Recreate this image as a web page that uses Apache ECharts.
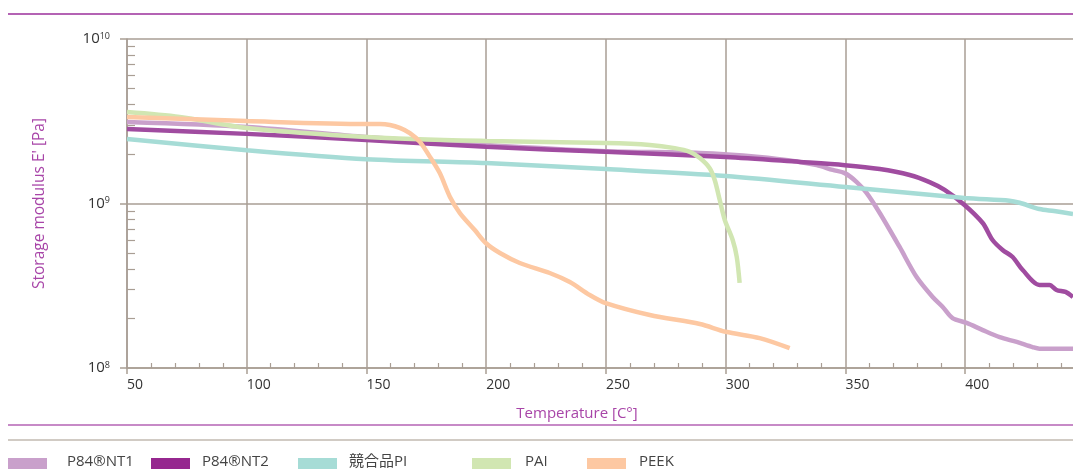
<!DOCTYPE html>
<html>
<head>
<meta charset="utf-8">
<script src="https://cdn.jsdelivr.net/npm/echarts@6/dist/echarts.min.js"></script>
<style>
  html, body { margin: 0; padding: 0; background: #fff; }
  #chart { width: 1073px; height: 469px; }
</style>
</head>
<body>
<div id="chart"></div>
<script>
// series names (legend order)
const names = ['P84®NT1', 'P84®NT2', '競合品PI', 'PAI', 'PEEK'];

// [temperature °C, storage modulus Pa]
const nt1 = [
  [50, 3.13e9], [100, 2.92e9], [150, 2.54e9], [200, 2.27e9], [250, 2.08e9],
  [289, 2.03e9], [314, 1.92e9], [331, 1.79e9], [338, 1.71e9], [344.7, 1.6e9],
  [349.7, 1.53e9], [354.7, 1.35e9], [358.8, 1.16e9], [364.3, 8.75e8], [372.6, 5.44e8],
  [379.7, 3.57e8], [386.4, 2.7e8], [390.6, 2.35e8], [394.7, 2.01e8], [400.6, 1.88e8],
  [407.3, 1.7e8], [414.4, 1.54e8], [421.5, 1.44e8], [428.1, 1.34e8], [431, 1.31e8],
  [445, 1.31e8]
];
const nt2 = [
  [50, 2.84e9], [100, 2.65e9], [150, 2.43e9], [200, 2.21e9], [250, 2.06e9],
  [300, 1.92e9], [331, 1.79e9], [349.7, 1.71e9], [364.3, 1.62e9], [376.8, 1.49e9],
  [385.1, 1.35e9], [391.4, 1.21e9], [399.7, 9.8e8], [407.3, 7.61e8], [411.4, 6.0e8],
  [415.6, 5.22e8], [419.8, 4.73e8], [424, 3.94e8], [431, 3.2e8], [435.2, 3.2e8],
  [438.1, 2.98e8], [441.9, 2.9e8], [445, 2.7e8]
];
const pi = [
  [50, 2.47e9], [100, 2.11e9], [150, 1.86e9], [200, 1.76e9], [250, 1.62e9],
  [300, 1.47e9], [350, 1.26e9], [399.7, 1.08e9], [418.5, 1.04e9], [422.7, 1.01e9],
  [431, 9.26e8], [437.1, 9.0e8], [445, 8.63e8]
];
const pai = [
  [50, 3.6e9], [72, 3.36e9], [100, 2.88e9], [150, 2.54e9], [200, 2.4e9],
  [250, 2.33e9], [268.3, 2.27e9], [278.7, 2.17e9], [285, 2.06e9], [289.2, 1.89e9],
  [293.3, 1.64e9], [295.4, 1.39e9], [297.5, 1.05e9], [299.6, 7.94e8], [302.9, 6.0e8],
  [304.6, 4.73e8], [305.8, 3.29e8]
];
const peek = [
  [50, 3.36e9], [100, 3.17e9], [150, 3.04e9], [155.6, 3.04e9], [159.8, 3.0e9],
  [163.9, 2.88e9], [168.1, 2.68e9], [172.3, 2.37e9], [176.5, 1.92e9], [180.6, 1.53e9],
  [184.8, 1.1e9], [189, 8.75e8], [195.2, 6.9e8], [199.8, 5.75e8], [205.7, 5.0e8],
  [214, 4.35e8], [226.5, 3.78e8], [234.9, 3.33e8], [243.2, 2.78e8], [249.9, 2.48e8],
  [268.3, 2.1e8], [289.2, 1.85e8], [300, 1.66e8], [314.2, 1.52e8], [326.7, 1.32e8]
];

const xTicks = [50, 100, 150, 200, 250, 300, 350, 400];
const yExponents = [8, 9, 10];

const legendColors = ['#c9a0cb', '#96278f', '#a6dcd6', '#d1e6b2', '#fdc8a2'];
const lineColors = ['#c9a0cb', '#a04ca0', '#a6dcd6', '#d1e6b2', '#fdc8a2'];
const legendLeft = [8, 151, 298, 472, 587];
const legendTextGap = [15, 7, 7, 9, 8];

const gridColor = '#a99e94';
const font = '"Open Sans", "Noto Sans CJK JP", sans-serif';

// legend swatch sits in the lower part of the item box so the label rides a bit higher
const swatch = 'path://M0,0L0.01,0L0.01,0.01Z M0,4H39V15H0Z';

// minor ticks
const xMinor = [];
for (let t = 60; t < 445; t += 10) if (t % 50) xMinor.push(t);
const yMinor = [];
[8, 9].forEach(e => { for (let k = 2; k <= 9; k++) yMinor.push(e + Math.log10(k)); });

const toLog = arr => arr.map(([t, v]) => [t, Math.log10(v)]);
const allData = [nt1, nt2, pi, pai, peek];

const chart = echarts.init(document.querySelector('#chart'), null, { renderer: 'canvas' });
const option = {
  animation: false,
  textStyle: { fontFamily: font },
  grid: { left: 127, right: 0, top: 39, bottom: 101, containLabel: false, outerBoundsMode: 'none' },
  graphic: [
    { type: 'line', shape: { x1: 8, y1: 14, x2: 1073, y2: 14 }, style: { stroke: '#b463b4', lineWidth: 2 } },
    { type: 'line', shape: { x1: 8, y1: 425, x2: 1073, y2: 425 }, style: { stroke: '#b463b4', lineWidth: 1.5 } },
    { type: 'line', shape: { x1: 8, y1: 440, x2: 1073, y2: 440 }, style: { stroke: '#c2bab1', lineWidth: 1.5 } }
  ],
  legend: names.map((n, i) => ({
    left: legendLeft[i],
    top: 454,
    padding: 0,
    itemWidth: 39,
    itemHeight: 15,
    icon: swatch,
    selectedMode: false,
    data: [{ name: n, itemStyle: { color: legendColors[i], borderWidth: 0 } }],
    formatter: name => '{g|}' + name,
    textStyle: {
      fontSize: 15, color: '#444', fontFamily: font,
      rich: { g: { width: legendTextGap[i] } }
    }
  })),
  xAxis: [
    {
      type: 'value', min: 50, max: 445, position: 'bottom',
      name: 'Temperature [C°]', nameLocation: 'middle', nameGap: 38,
      nameTextStyle: { color: '#a845a8', fontSize: 15, fontFamily: font, padding: [0, 46, 0, 0] },
      axisLine: { lineStyle: { color: gridColor, width: 1.5 } },
      axisTick: { show: true, length: 6, customValues: xTicks, lineStyle: { color: gridColor, width: 1.5 } },
      axisLabel: { customValues: xTicks, align: 'left', margin: 10, fontSize: 14, color: '#333' },
      splitLine: { show: true, lineStyle: { color: gridColor, width: 1.5 } }
    },
    {
      type: 'value', min: 50, max: 445, position: 'bottom',
      axisLine: { show: false },
      axisTick: { show: true, inside: true, length: 5, customValues: xMinor, lineStyle: { color: gridColor, width: 1.2 } },
      axisLabel: { show: false },
      splitLine: { show: false }
    }
  ],
  yAxis: [
    {
      type: 'value', min: 8, max: 10, interval: 1, position: 'left',
      name: "Storage modulus E' [Pa]", nameLocation: 'middle', nameGap: 80,
      nameTextStyle: { color: '#a845a8', fontSize: 15.5, fontFamily: font },
      axisLine: { show: true, lineStyle: { color: gridColor, width: 1.5 } },
      axisTick: { show: true, length: 7, customValues: yExponents, lineStyle: { color: gridColor, width: 1.5 } },
      axisLabel: {
        customValues: yExponents, margin: 17, fontSize: 15, color: '#333',
        formatter: v => '10{s|' + Math.round(v) + '}',
        rich: { s: { fontSize: 9, color: '#333', padding: [0, 0, 6, 0] } }
      },
      splitLine: { show: true, lineStyle: { color: gridColor, width: 1.5 } }
    },
    {
      type: 'value', min: 8, max: 10, position: 'left',
      axisLine: { show: false },
      axisTick: { show: true, inside: true, length: 8, customValues: yMinor, lineStyle: { color: gridColor, width: 1.2 } },
      axisLabel: { show: false },
      splitLine: { show: false }
    }
  ],
  series: names.map((n, i) => ({
    name: n,
    type: 'line',
    xAxisIndex: 0,
    yAxisIndex: 0,
    data: toLog(allData[i]),
    showSymbol: false,
    symbol: 'none',
    smooth: 0.3,
    clip: true,
    itemStyle: { color: legendColors[i] },
    lineStyle: { color: lineColors[i], width: 4.5 },
    emphasis: { disabled: true }
  }))
};
chart.setOption(option);
</script>
</body>
</html>
